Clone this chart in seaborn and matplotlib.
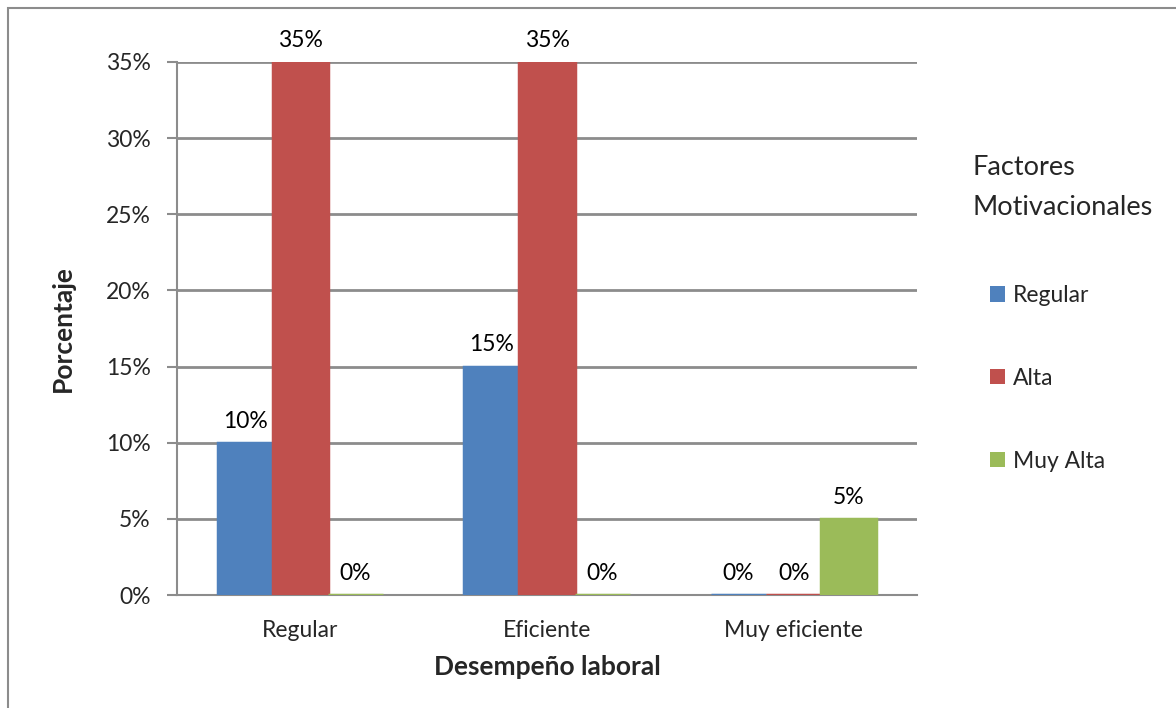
import matplotlib
matplotlib.use("Agg")
import matplotlib.pyplot as plt
from matplotlib.patches import Rectangle
import seaborn as sns
import pandas as pd

# Data
categorias = ["Regular", "Eficiente", "Muy eficiente"]
factores = ["Regular", "Alta", "Muy Alta"]
regular = [10, 15, 0]
alta = [35, 35, 0]
muy_alta = [0, 0, 5]
y_ticks = [0, 5, 10, 15, 20, 25, 30, 35]

colores = ["#4F81BD", "#C0504D", "#9BBB59"]
gris = "#8C8C8C"

df = pd.DataFrame({
    "Desempeño": categorias * 3,
    "Factor": [f for f in factores for _ in categorias],
    "Porcentaje": regular + alta + muy_alta,
})

sns.set_theme(style="white")
plt.rcParams["font.family"] = ["Lato", "DejaVu Sans"]

fig = plt.figure(figsize=(11.76, 7.08), dpi=100)
ax = fig.add_axes([177 / 1176, 1 - 595 / 708, (917 - 177) / 1176, (595 - 62) / 708])

sns.barplot(data=df, x="Desempeño", y="Porcentaje", hue="Factor",
            order=categorias, hue_order=factores, palette=colores,
            saturation=1, width=0.67, ax=ax, legend=False, zorder=3)

# Outline each bar in its own colour so zero-height bars remain visible
for cont, col in zip(ax.containers, colores):
    for p in cont:
        p.set_edgecolor(col)
        p.set_linewidth(2.5)
    ax.bar_label(cont, labels=[f"{v:.0f}%" for v in cont.datavalues],
                 padding=8, fontsize=16.5, color="black")

ax.set_ylim(0, 35)
ax.set_xlim(-0.5, 2.5)
ax.set_yticks(y_ticks)
ax.set_yticklabels([f"{t}%" for t in y_ticks], fontsize=16.5)
ax.yaxis.grid(True, color=gris, linewidth=2, zorder=0)
ax.set_axisbelow(True)

ax.set_xticks(range(len(categorias)))
ax.set_xticklabels(categorias, fontsize=16.5)
ax.set_xticks([-0.5, 0.5, 1.5, 2.5], minor=True)
ax.tick_params(axis="x", which="major", length=0, pad=18)
ax.tick_params(axis="x", which="minor", length=8, width=1.5, color=gris, direction="out")
ax.tick_params(axis="y", length=7, width=1.5, color=gris, direction="out", pad=12, left=True)

for s in ["top", "right"]:
    ax.spines[s].set_visible(False)
for s in ["left", "bottom"]:
    ax.spines[s].set_color(gris)
    ax.spines[s].set_linewidth(1.5)

ax.set_xlabel("Desempeño laboral", fontsize=19, fontweight="bold", labelpad=10)
ax.set_ylabel("Porcentaje", fontsize=19, fontweight="bold", labelpad=22)

# Legend
handles = [Rectangle((0, 0), 1, 1, facecolor=c, edgecolor="none") for c in colores]
leg = fig.legend(handles, factores, loc="upper left",
                 bbox_to_anchor=(990 / 1176, 1 - 285 / 708),
                 frameon=False, fontsize=16.5, handlelength=0.65, handleheight=0.65,
                 handletextpad=0.35, labelspacing=2.7, borderaxespad=0, borderpad=0)
fig.text(973 / 1176, 1 - 155 / 708, "Factores\nMotivacionales", fontsize=19.5,
         ha="left", va="top", linespacing=1.75)

# Chart-area border
fig.patches.append(Rectangle((8 / 1176, -0.1), 1.2, 1 - 8 / 708 + 0.1,
                             transform=fig.transFigure, fill=False,
                             edgecolor=gris, linewidth=1.5))

fig.savefig("out.png", dpi=100)
